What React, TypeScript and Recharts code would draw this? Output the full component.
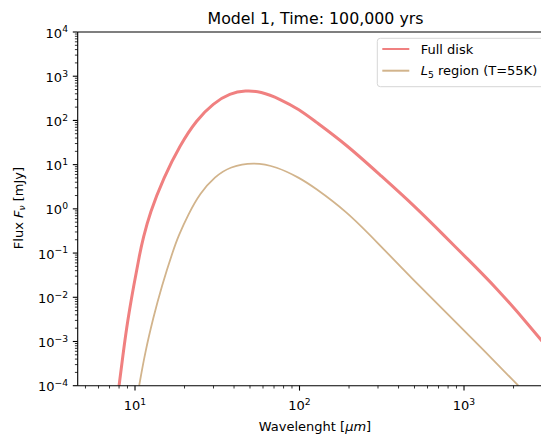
import { LineChart, Line, XAxis, YAxis, ReferenceLine } from "recharts";

// wavelength [um] / flux [mJy]
const fullWl = [8.0, 8.5, 9.0, 9.8, 10.7, 11.2, 12.3, 14.9, 18.8, 23.7, 29.9, 37.8, 47, 58, 76, 100.7, 121, 194, 308, 492, 785, 991, 1581, 2518, 3290];
const fullFlux = [1.0e-4, 5.9e-4, 2.8e-3, 0.0175, 0.1, 0.215, 0.8, 5.0, 27.9, 103, 245, 412, 475, 452, 306, 173, 103, 27.9, 5.9, 1.23, 0.218, 0.0913, 0.0161, 2.19e-3, 6.5e-4];

const l5Wl = [10.6, 11.5, 12.9, 14.5, 17.1, 18.3, 21.0, 24.8, 30.6, 37.8, 52.4, 72.6, 100.7, 121, 194, 294, 492, 785, 1250, 2140];
const l5Flux = [1.0e-4, 5.5e-4, 3.4e-3, 0.0175, 0.118, 0.237, 0.73, 2.26, 5.37, 9.04, 11.4, 9.04, 4.94, 3.19, 0.869, 0.18, 0.0248, 4.4e-3, 7.7e-4, 1.0e-4];

const xMajor = [10, 100, 1000];
const xMinor = [5, 6, 7, 8, 9, 20, 30, 40, 50, 60, 70, 80, 90, 200, 300, 400, 500, 600, 700, 800, 900, 2000, 3000];
const yMajor = [1e-4, 1e-3, 1e-2, 1e-1, 1, 10, 100, 1000, 10000];
const minorMult = [2, 3, 4, 5, 6, 7, 8, 9];

const fullData = fullWl.map((wl, i) => ({ wl, f: fullFlux[i] }));
const l5Data = l5Wl.map((wl, i) => ({ wl, f: l5Flux[i] }));
const yTicks = [
  ...yMajor,
  ...yMajor.slice(0, -1).flatMap((d) => minorMult.map((m) => m * d)),
].sort((a, b) => a - b);
const xTicks = [...xMajor, ...xMinor].sort((a, b) => a - b);

const FONT = "DejaVu Sans";
const W = 545;
const H = 426;
const PL = 69.7; // plot left
const PT = 24; // plot top
const PB = 377.7; // plot bottom

const isMajor = (v: number) => Math.abs(Math.log10(v) - Math.round(Math.log10(v))) < 1e-6;
const expText = (v: number) => {
  const e = Math.round(Math.log10(v));
  return e < 0 ? "\u2212" + -e : String(e);
};

function XTick(props: any) {
  const { x, payload } = props;
  const v = payload.value;
  const major = isMajor(v);
  return (
    <g>
      <line x1={x} x2={x} y1={PB} y2={PB + (major ? 4.9 : 2.8)} stroke="#000" strokeWidth={major ? 1.1 : 0.8} />
      {major && (
        <text x={x} y={PB + 24.5} textAnchor="middle" fontSize={13} fontFamily={FONT} fill="#000">
          10<tspan dy={-5.2} fontSize={9.2}>{expText(v)}</tspan>
        </text>
      )}
    </g>
  );
}

function YTick(props: any) {
  const { y, payload } = props;
  const v = payload.value;
  const major = isMajor(v);
  return (
    <g>
      <line x1={PL - (major ? 4.9 : 2.8)} x2={PL} y1={y} y2={y} stroke="#000" strokeWidth={major ? 1.1 : 0.8} />
      {major && (
        <text x={PL - 9.7} y={y + 5.5} textAnchor="end" fontSize={13} fontFamily={FONT} fill="#000">
          10<tspan dy={-5.2} fontSize={9.2}>{expText(v)}</tspan>
        </text>
      )}
    </g>
  );
}

export default function App() {
  return (
    <div style={{ position: "relative", width: 541, height: H, overflow: "hidden" }}>
      <LineChart width={W} height={H} margin={{ top: PT, right: 0, bottom: 0, left: 0 }}>
        <XAxis
          dataKey="wl"
          type="number"
          scale="log"
          domain={[4.484, 3475]}
          allowDataOverflow
          ticks={xTicks}
          interval={0}
          tick={<XTick />}
          tickLine={false}
          axisLine={{ stroke: "#000", strokeWidth: 1.1 }}
          height={H - PB}
        />
        <YAxis
          type="number"
          scale="log"
          domain={[1e-4, 1e4]}
          allowDataOverflow
          ticks={yTicks}
          interval={0}
          tick={<YTick />}
          tickLine={false}
          axisLine={{ stroke: "#000", strokeWidth: 1.1 }}
          width={PL}
        />
        <ReferenceLine y={1e4} stroke="#000" strokeWidth={1.1} />
        <Line data={fullData} dataKey="f" type="basis" stroke="#f08080" strokeWidth={3} dot={false} isAnimationActive={false} />
        <Line data={l5Data} dataKey="f" type="basis" stroke="#d2b48c" strokeWidth={1.8} dot={false} isAnimationActive={false} />
      </LineChart>

      {/* titles, axis labels and legend */}
      <svg width={541} height={H} style={{ position: "absolute", left: 0, top: 0, pointerEvents: "none" }} fontFamily={FONT} fill="#000">
        <text x={307.5} y={15.5} textAnchor="middle" fontSize={15.8}>
          Model 1, Time: 100,000 yrs
        </text>
        <text x={307} y={423} textAnchor="middle" fontSize={13}>
          Wavelenght [<tspan fontStyle="italic">μm</tspan>]
        </text>
        <text transform="translate(14.5,200) rotate(-90)" textAnchor="middle" fontSize={13}>
          Flux <tspan fontStyle="italic">F</tspan>
          <tspan fontStyle="italic" fontSize={9.2} dy={2.5}>ν</tspan>
          <tspan dy={-2.5}> [mJy]</tspan>
        </text>

        <rect x={369.3} y={30.3} width={169.4} height={48.4} rx={3} fill="#fff" stroke="#d6d6d6" strokeWidth={1} />
        <line x1={374.3} x2={401.3} y1={41} y2={41} stroke="#f08080" strokeWidth={2} />
        <text x={412.7} y={45.7} fontSize={13}>Full disk</text>
        <line x1={374.3} x2={401.3} y1={62.7} y2={62.7} stroke="#d2b48c" strokeWidth={2} />
        <text x={412.7} y={67.4} fontSize={13}>
          <tspan fontStyle="italic">L</tspan>
          <tspan fontSize={9.2} dy={2.5}>5</tspan>
          <tspan dy={-2.5}> region (T=55K)</tspan>
        </text>
      </svg>
    </div>
  );
}
